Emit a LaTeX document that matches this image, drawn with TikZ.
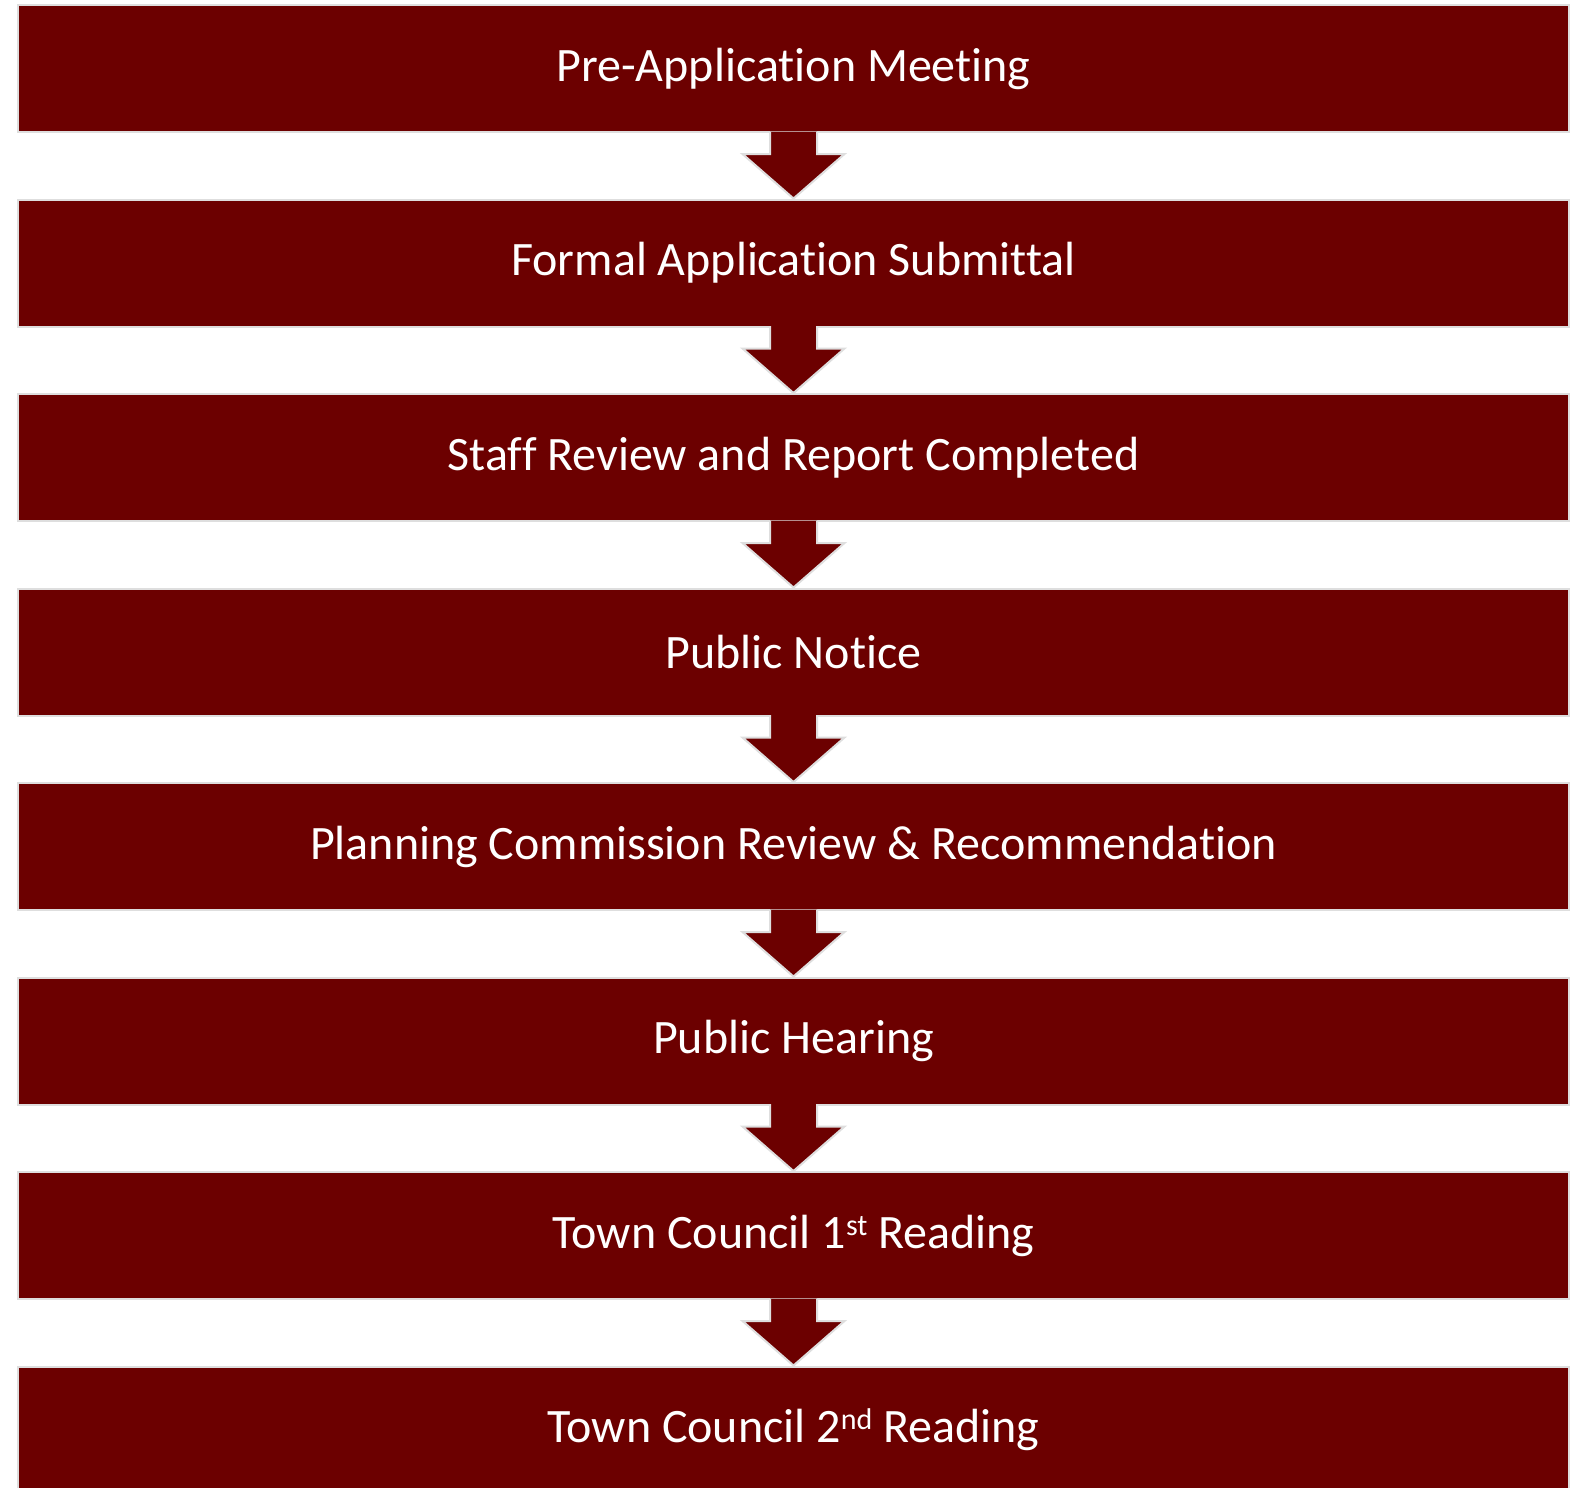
\documentclass[tikz,border=0pt]{standalone}
\usepackage{fontspec}
\setmainfont{Carlito}[RawFeature={-liga}]
\usetikzlibrary{calc}

\definecolor{maroon}{RGB}{108,0,0}
\definecolor{rim}{RGB}{222,222,222}

\tikzset{
  stage/.style={draw=rim, line width=2pt, fill=maroon, text=white,
    minimum width=1551pt, minimum height=127pt, inner sep=0pt,
    font=\fontsize{48}{56}\selectfont},
  downarrow/.style={draw=rim, line width=2pt, fill=maroon, line join=miter}
}

% ordinal suffix, raised
\newcommand{\ordsup}[1]{\raisebox{13pt}{\fontsize{30}{32}\selectfont #1}}

% block arrow from the bottom of one stage to the top of the next
\newcommand{\stepdown}[2]{%
  \draw[downarrow] ($(#1.south)+(-23.5pt,1.5pt)$) -- ($(#1.south)+(-23.5pt,-21pt)$)
    -- ($(#1.south)+(-51pt,-21pt)$) -- (#2.north)
    -- ($(#1.south)+(51pt,-21pt)$) -- ($(#1.south)+(23.5pt,-21pt)$)
    -- ($(#1.south)+(23.5pt,1.5pt)$);
}

\begin{document}
\begin{tikzpicture}[x=1pt, y=-1pt]

\clip (0,0) rectangle (1574,1488);
\fill[white] (0,0) rectangle (1574,1488);

\node [stage] (s1) at (793.5,68.5) {Pre-Application Meeting};
\node [stage] (s2) at (793.5,263) {Formal Application Submittal};
\node [stage] (s3) at (793.5,457.5) {Staff Review and Report Completed};
\node [stage] (s4) at (793.5,652) {Public Notice};
\node [stage] (s5) at (793.5,846.5) {Planning Commission Review \& Recommendation};
\node [stage] (s6) at (793.5,1041) {Public Hearing};
\node [stage] (s7) at (793.5,1235.5) {Town Council 1\ordsup{st} Reading};
\node [stage] (s8) at (793.5,1430) {Town Council 2\ordsup{nd} Reading};

\stepdown{s1}{s2}
\stepdown{s2}{s3}
\stepdown{s3}{s4}
\stepdown{s4}{s5}
\stepdown{s5}{s6}
\stepdown{s6}{s7}
\stepdown{s7}{s8}

\end{tikzpicture}
\end{document}
